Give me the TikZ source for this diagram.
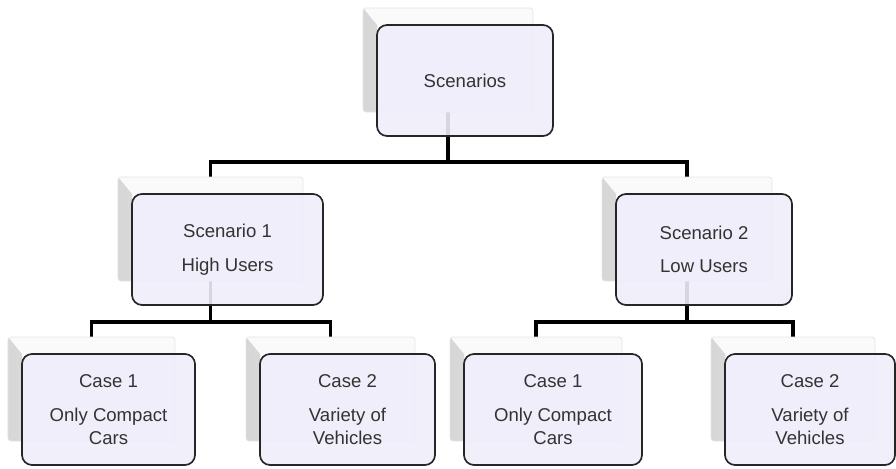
\documentclass[tikz,border=0pt]{standalone}
\usepackage{fontspec}
\setmainfont{Liberation Sans}
\usetikzlibrary{positioning,calc,backgrounds}
\newcommand{\TreePx}{0.025}
\definecolor{cardfill}{RGB}{238,237,250}

\begin{document}
\begin{tikzpicture}[x=\TreePx cm, y=-\TreePx cm,
		card/.style={draw=black!85, line width=1.2pt, rounded corners=\TreePx*10 cm, fill=cardfill, fill opacity=0.9, text opacity=1, text=black!80, minimum height=\TreePx*111 cm, inner sep=0pt, outer sep=0pt, align=center, font=\fontsize{13.2}{16.4}\selectfont},
		back/.style={draw=black!10, line width=0.5pt, rounded corners=\TreePx*3 cm, fill=black!2, minimum height=\TreePx*104 cm, inner sep=0pt, outer sep=0pt,
			path picture={\shade[sharp corners, left color=black!16, right color=black!5] (path picture bounding box.north west) -- ++(14,17) -- ([xshift=\TreePx*14 cm]path picture bounding box.south west) -- (path picture bounding box.south west) -- cycle;}},
		link/.style={line width=2.6pt}]
	\useasboundingbox (0,0) rectangle (896,468);
	% shadow boxes
	\node[back, minimum width=\TreePx*170 cm] (b0) at (448,60) {};
	\node[back, minimum width=\TreePx*185 cm] (b1) at (210.5,229) {};
	\node[back, minimum width=\TreePx*170 cm] (b2) at (687,229) {};
	\node[back, minimum width=\TreePx*167 cm] (b11) at (91.5,389) {};
	\node[back, minimum width=\TreePx*169 cm] (b12) at (330.5,389) {};
	\node[back, minimum width=\TreePx*172 cm] (b21) at (536,389) {};
	\node[back, minimum width=\TreePx*164 cm] (b22) at (793,389) {};
	% cards
	\node[card, minimum width=\TreePx*176 cm, below right=\TreePx*17 cm and \TreePx*14 cm of b0.north west] (s0) {Scenarios};
	\node[card, minimum width=\TreePx*191 cm, below right=\TreePx*17 cm and \TreePx*14 cm of b1.north west] (s1) {Scenario 1\\[7.4pt]High Users};
	\node[card, minimum width=\TreePx*176 cm, below right=\TreePx*17 cm and \TreePx*14 cm of b2.north west] (s2) {Scenario 2\\[7.4pt]Low Users};
	\node[card, minimum width=\TreePx*173 cm, below right=\TreePx*17 cm and \TreePx*14 cm of b11.north west] (c11) {Case 1\\[7.8pt]Only Compact\\Cars};
	\node[card, minimum width=\TreePx*175 cm, below right=\TreePx*17 cm and \TreePx*14 cm of b12.north west] (c12) {Case 2\\[7.8pt]Variety of\\Vehicles};
	\node[card, minimum width=\TreePx*178 cm, below right=\TreePx*17 cm and \TreePx*14 cm of b21.north west] (c21) {Case 1\\[7.8pt]Only Compact\\Cars};
	\node[card, minimum width=\TreePx*170 cm, below right=\TreePx*17 cm and \TreePx*14 cm of b22.north west] (c22) {Case 2\\[7.8pt]Variety of\\Vehicles};
	% connectors
	\begin{scope}[on background layer]
		\coordinate (j0) at ($(b0.south |- b1.north)+(0,-15)$);
		\coordinate (j1) at ($(b1.south |- b11.north)+(0,-15)$);
		\coordinate (j2) at ($(b2.south |- b21.north)+(0,-15)$);
		\draw[link] (b0.south) -- (j0);
		\draw[link] (b1.north) |- (j0) -| (b2.north);
		\draw[link] (b1.south) -- (j1);
		\draw[link] (b11.north) |- (j1) -| (b12.north);
		\draw[link] (b2.south) -- (j2);
		\draw[link] (b21.north) |- (j2) -| (b22.north);
	\end{scope}
\end{tikzpicture}
\end{document}
